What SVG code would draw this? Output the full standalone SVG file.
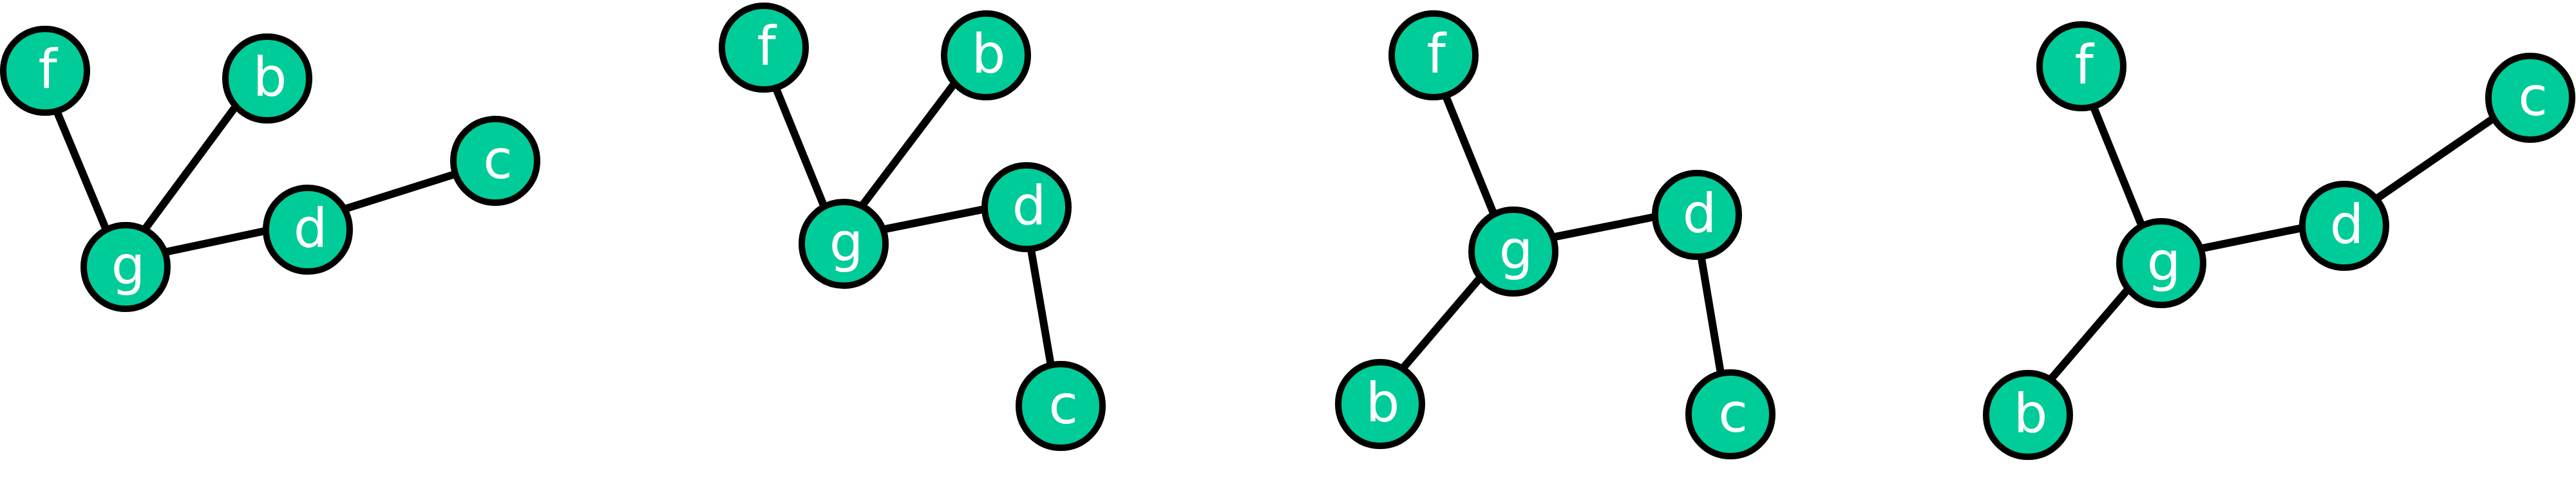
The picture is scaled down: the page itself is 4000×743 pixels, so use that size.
<svg xmlns="http://www.w3.org/2000/svg" width="4000" height="743" viewBox="0 0 4000 743">
<style>
.n circle{fill:#00cc99;stroke:#000;stroke-width:10}
.n text{fill:#fff;font-family:"DejaVu Sans",sans-serif;font-size:83px;text-anchor:middle}
.e line{stroke:#000;stroke-width:12}
</style>
<rect width="4000" height="743" fill="#fff"/>
<g id="connectors" class="e">
<line x1="62" y1="110" x2="189" y2="415"/>
<line x1="398" y1="122" x2="183" y2="413"/>
<line x1="185" y1="407" x2="468" y2="347"/>
<line x1="478" y1="343" x2="769" y2="251"/>
<line x1="1176" y1="66" x2="1300" y2="371"/>
<line x1="1521" y1="78" x2="1300" y2="371"/>
<line x1="1300" y1="371" x2="1584" y2="314"/>
<line x1="1589" y1="318" x2="1642" y2="627"/>
<line x1="2216" y1="78" x2="2340" y2="383"/>
<line x1="2136" y1="622" x2="2340" y2="383"/>
<line x1="2340" y1="383" x2="2625" y2="326"/>
<line x1="2630" y1="330" x2="2682" y2="640"/>
<line x1="3222" y1="95" x2="3346" y2="401"/>
<line x1="3142" y1="639" x2="3346" y2="401"/>
<line x1="3346" y1="401" x2="3630" y2="343"/>
<line x1="3635" y1="347" x2="3924" y2="148"/>
</g>
<g id="p1-f" class="n"><circle cx="70" cy="110" r="65"/><text x="74" y="137">f</text></g>
<g id="p1-b" class="n"><circle cx="415" cy="122" r="65"/><text x="419" y="149">b</text></g>
<g id="p1-c" class="n"><circle cx="769" cy="250" r="65"/><text x="773" y="277">c</text></g>
<g id="p1-d" class="n"><circle cx="478" cy="357" r="65"/><text x="482" y="384">d</text></g>
<g id="p1-g" class="n"><circle cx="195" cy="415" r="65"/><text x="199" y="442">g</text></g>
<g id="p2-f" class="n"><circle cx="1186" cy="74" r="65"/><text x="1190" y="101">f</text></g>
<g id="p2-b" class="n"><circle cx="1531" cy="86" r="65"/><text x="1535" y="113">b</text></g>
<g id="p2-d" class="n"><circle cx="1594" cy="322" r="65"/><text x="1598" y="349">d</text></g>
<g id="p2-g" class="n"><circle cx="1310" cy="379" r="65"/><text x="1314" y="406">g</text></g>
<g id="p2-c" class="n"><circle cx="1647" cy="631" r="65"/><text x="1651" y="658">c</text></g>
<g id="p3-f" class="n"><circle cx="2226" cy="86" r="65"/><text x="2230" y="113">f</text></g>
<g id="p3-d" class="n"><circle cx="2635" cy="334" r="65"/><text x="2639" y="361">d</text></g>
<g id="p3-g" class="n"><circle cx="2350" cy="391" r="65"/><text x="2354" y="418">g</text></g>
<g id="p3-b" class="n"><circle cx="2143" cy="628" r="65"/><text x="2147" y="655">b</text></g>
<g id="p3-c" class="n"><circle cx="2687" cy="644" r="65"/><text x="2691" y="671">c</text></g>
<g id="p4-f" class="n"><circle cx="3232" cy="103" r="65"/><text x="3236" y="130">f</text></g>
<g id="p4-c" class="n"><circle cx="3929" cy="152" r="65"/><text x="3933" y="179">c</text></g>
<g id="p4-d" class="n"><circle cx="3640" cy="351" r="65"/><text x="3644" y="378">d</text></g>
<g id="p4-g" class="n"><circle cx="3356" cy="409" r="65"/><text x="3360" y="436">g</text></g>
<g id="p4-b" class="n"><circle cx="3149" cy="645" r="65"/><text x="3153" y="672">b</text></g>
</svg>
